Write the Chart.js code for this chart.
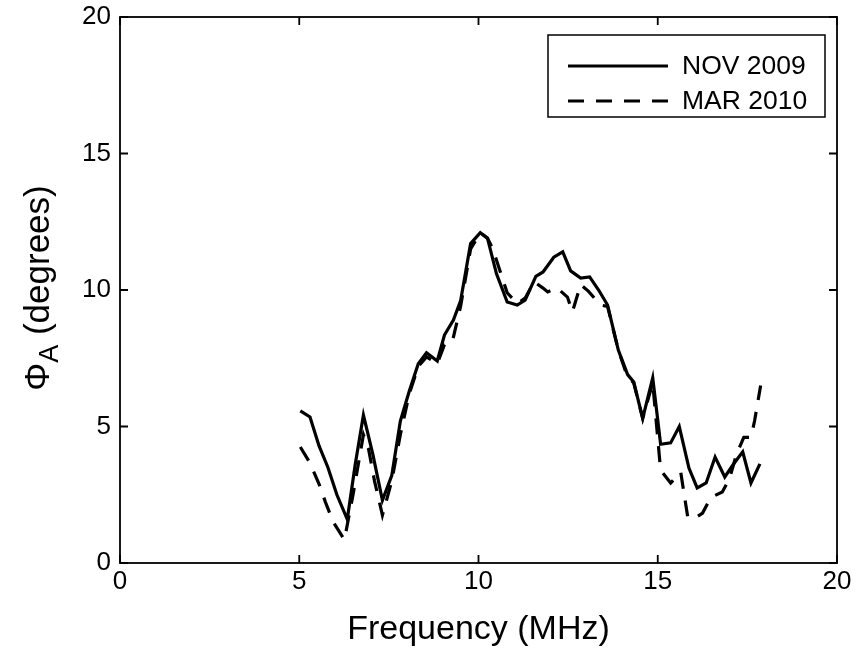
<!DOCTYPE html>
<html>
<head>
<meta charset="utf-8">
<script src="https://cdn.jsdelivr.net/npm/chart.js@4.4.1/dist/chart.umd.min.js"></script>
<style>
  html, body { margin: 0; padding: 0; background: #fff; }
  #wrap { width: 863px; height: 656px; }
</style>
</head>
<body>
<div id="wrap"><canvas id="c" width="863" height="656"></canvas></div>
<script>
// ---- Data ----
const seriesNames = ["NOV 2009", "MAR 2010"];

const novFreq = [5.03, 5.3, 5.55, 5.8, 6.05, 6.34, 6.56, 6.79, 7.05, 7.32, 7.58, 7.82, 8.07, 8.32, 8.55, 8.85, 9.05, 9.3, 9.5, 9.78, 10.05, 10.25, 10.5, 10.8, 11.08, 11.3, 11.6, 11.8, 12.1, 12.35, 12.57, 12.85, 13.1, 13.35, 13.6, 13.9, 14.16, 14.33, 14.58, 14.86, 15.08, 15.36, 15.6, 15.87, 16.1, 16.35, 16.6, 16.87, 17.1, 17.37, 17.6, 17.85];
const novPhi  = [5.57, 5.35, 4.3, 3.5, 2.5, 1.6, 3.6, 5.42, 4.0, 2.3, 3.2, 5.2, 6.3, 7.3, 7.7, 7.4, 8.35, 8.9, 9.6, 11.7, 12.1, 11.9, 10.6, 9.56, 9.45, 9.63, 10.5, 10.66, 11.2, 11.4, 10.7, 10.44, 10.48, 10.0, 9.45, 7.8, 6.9, 6.63, 5.3, 6.78, 4.35, 4.4, 5.0, 3.48, 2.75, 2.93, 3.88, 3.15, 3.6, 4.07, 2.93, 3.63];

const marFreq = [5.03, 5.3, 5.55, 5.73, 5.95, 6.26, 6.5, 6.79, 6.93, 7.1, 7.32, 7.58, 7.82, 8.07, 8.32, 8.55, 8.85, 9.05, 9.27, 9.5, 9.78, 10.05, 10.25, 10.4, 10.6, 10.8, 11.08, 11.3, 11.55, 11.8, 11.93, 12.2, 12.48, 12.62, 12.85, 13.07, 13.4, 13.6, 13.9, 14.16, 14.33, 14.58, 14.86, 15.08, 15.36, 15.64, 15.84, 16.1, 16.25, 16.48, 16.8, 17.0, 17.2, 17.4, 17.6, 17.7, 17.87];
const marPhi  = [4.25, 3.66, 2.9, 2.23, 1.5, 0.85, 2.5, 4.7, 4.2, 3.0, 1.75, 3.0, 4.7, 6.2, 7.2, 7.55, 7.3, 8.0, 8.1, 9.4, 11.5, 12.1, 11.9, 11.5, 10.7, 9.9, 9.5, 9.7, 10.3, 10.07, 9.93, 10.07, 9.74, 9.2, 10.2, 9.95, 9.45, 9.4, 7.8, 6.8, 6.6, 5.3, 6.6, 3.4, 2.93, 3.33, 1.65, 1.7, 1.83, 2.4, 2.6, 3.08, 4.0, 4.6, 4.6, 5.2, 6.5];

const xTicks = [0, 5, 10, 15, 20];
const yTicks = [0, 5, 10, 15, 20];
const xTitle = "Frequency (MHz)";
const yTitleMain = "\u03A6";
const yTitleSub = "A";
const yTitleRest = " (degrees)";

const FONT = "'Liberation Sans', Arial, Helvetica, sans-serif";

function pts(xs, ys) { return xs.map((x, i) => ({ x: x, y: ys[i] })); }

const boxPlugin = {
  id: 'matlabBox',
  afterDraw(chart) {
    const ctx = chart.ctx;
    const a = chart.chartArea;
    const xs = chart.scales.x, ys = chart.scales.y;
    ctx.save();
    ctx.strokeStyle = '#000';
    ctx.lineWidth = 1.8;
    ctx.strokeRect(a.left, a.top, a.right - a.left, a.bottom - a.top);
    const tl = 8;
    ctx.beginPath();
    xTicks.forEach(v => {
      const px = xs.getPixelForValue(v);
      ctx.moveTo(px, a.bottom); ctx.lineTo(px, a.bottom - tl);
      ctx.moveTo(px, a.top); ctx.lineTo(px, a.top + tl);
    });
    yTicks.forEach(v => {
      const py = ys.getPixelForValue(v);
      ctx.moveTo(a.left, py); ctx.lineTo(a.left + tl, py);
      ctx.moveTo(a.right, py); ctx.lineTo(a.right - tl, py);
    });
    ctx.stroke();

    // Legend
    const lx = 548, ly = 35, lw = 277, lh = 82;
    ctx.fillStyle = '#fff';
    ctx.fillRect(lx, ly, lw, lh);
    ctx.lineWidth = 1.5;
    ctx.strokeRect(lx, ly, lw, lh);
    const rows = [66, 101];
    chart.data.datasets.forEach((ds, i) => {
      ctx.beginPath();
      ctx.lineWidth = ds.borderWidth;
      ctx.setLineDash(ds.borderDash || []);
      ctx.moveTo(568, rows[i]); ctx.lineTo(668, rows[i]);
      ctx.stroke();
      ctx.setLineDash([]);
      ctx.fillStyle = '#000';
      ctx.font = '26.5px ' + FONT;
      ctx.textAlign = 'left';
      ctx.textBaseline = 'middle';
      ctx.fillText(ds.label, 682, rows[i] + 1);
    });

    // X title
    ctx.fillStyle = '#000';
    ctx.font = '34px ' + FONT;
    ctx.textAlign = 'center';
    ctx.textBaseline = 'alphabetic';
    ctx.fillText(xTitle, (a.left + a.right) / 2, 639);

    // Y title with subscript
    ctx.translate(49, 288);
    ctx.rotate(-Math.PI / 2);
    const mainF = '35px ' + FONT, subF = '27px ' + FONT;
    ctx.font = mainF; const w1 = ctx.measureText(yTitleMain).width;
    ctx.font = subF; const w2 = ctx.measureText(yTitleSub).width;
    ctx.font = mainF; const w3 = ctx.measureText(yTitleRest).width;
    let sx = -(w1 + w2 + w3) / 2;
    ctx.textAlign = 'left';
    ctx.font = mainF; ctx.fillText(yTitleMain, sx, 0); sx += w1;
    ctx.font = subF; ctx.fillText(yTitleSub, sx, 9); sx += w2;
    ctx.font = mainF; ctx.fillText(yTitleRest, sx, 0);
    ctx.restore();
  }
};

new Chart(document.getElementById('c'), {
  type: 'scatter',
  data: {
    datasets: [
      { label: seriesNames[0], data: pts(novFreq, novPhi), showLine: true, borderColor: '#000', backgroundColor: '#000', borderWidth: 3.2, pointRadius: 0, tension: 0 },
      { label: seriesNames[1], data: pts(marFreq, marPhi), showLine: true, borderColor: '#000', backgroundColor: '#000', borderWidth: 3.2, borderDash: [16, 12], pointRadius: 0, tension: 0 }
    ]
  },
  options: {
    responsive: false,
    animation: false,
    devicePixelRatio: 1,
    layout: { padding: { top: 17, right: 26, left: 0, bottom: 0 } },
    plugins: { legend: { display: false }, tooltip: { enabled: false } },
    scales: {
      x: {
        type: 'linear', min: 0, max: 20,
        afterBuildTicks: s => { s.ticks = xTicks.map(v => ({ value: v })); },
        afterFit: s => { s.height = 93; s.paddingLeft = 0; s.paddingRight = 0; },
        grid: { display: false, drawTicks: false },
        border: { display: false },
        ticks: { color: '#000', font: { size: 26, family: FONT }, padding: 3, maxRotation: 0 }
      },
      y: {
        type: 'linear', min: 0, max: 20,
        afterBuildTicks: s => { s.ticks = yTicks.map(v => ({ value: v })); },
        afterFit: s => { s.width = 120; s.paddingTop = 0; s.paddingBottom = 0; },
        grid: { display: false, drawTicks: false },
        border: { display: false },
        ticks: { color: '#000', font: { size: 26, family: FONT }, padding: 9 }
      }
    }
  },
  plugins: [boxPlugin]
});
</script>
</body>
</html>
